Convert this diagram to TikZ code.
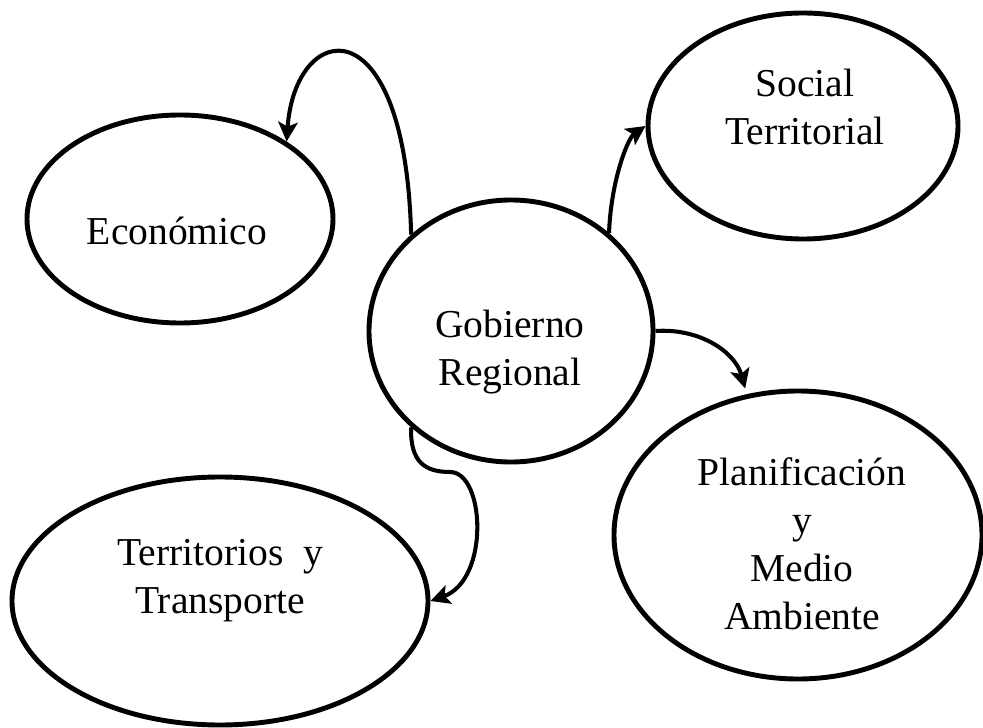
\documentclass[tikz,border=0pt]{standalone}
\usepackage{fontspec}
\setmainfont{Liberation Serif}
\usetikzlibrary{shapes.geometric,arrows.meta}
\tikzset{>={Stealth[length=11pt,width=11pt,inset=2.5pt]}}
\tikzset{
  bubble/.style = {draw, ellipse, line width=2.8pt, inner sep=0pt},
  caption/.style = {align=center, font=\fontsize{22.5}{27.3}\selectfont},
  link/.style = {->, line width=2.3pt}
}
\begin{document}
\begin{tikzpicture}
  \useasboundingbox (0,0) rectangle (19.66,14.54);
  \node[bubble, minimum width=5.68cm, minimum height=5.24cm] (gob) at (10.22,7.92) {};
  \node[bubble, minimum width=6.12cm, minimum height=4.16cm] (eco) at (3.60,10.16) {};
  \node[bubble, minimum width=6.20cm, minimum height=4.52cm] (soc) at (16.06,12.02) {};
  \node[bubble, minimum width=7.36cm, minimum height=5.76cm] (pla) at (15.96,3.84) {};
  \node[bubble, minimum width=8.32cm, minimum height=4.96cm] (ter) at (4.40,2.52) {};

  \node[caption] (gobtxt) at (10.20,7.50) {Gobierno\\Regional};
  \node[caption, anchor=base] (ecotxt) at (3.54,9.64) {Económico};
  \node[caption] (soctxt) at (16.10,12.41) {Social\\Territorial};
  \node[caption] (platxt) at (16.04,3.66) {Planificación\\y\\Medio\\Ambiente};
  \node[caption] (tertxt) at (4.40,2.92) {Territorios\ \ y\\Transporte};

  \draw[link] (gob.136) .. controls (8.10,14.54) and (5.90,14.14) .. (eco.36);
  \draw[link] (gob.45) .. controls (12.22,10.94) and (12.56,11.78) .. (soc.west);
  \draw[link, shorten >=0.12cm] (gob.east) .. controls (14.00,7.98) and (14.70,7.50) .. (pla.110);
  \draw[link] (gob.224) .. controls (8.20,5.30) and (8.50,5.10) .. (9.00,5.10)
    .. controls (9.70,5.10) and (9.80,2.94) .. (ter.east);
\end{tikzpicture}
\end{document}
